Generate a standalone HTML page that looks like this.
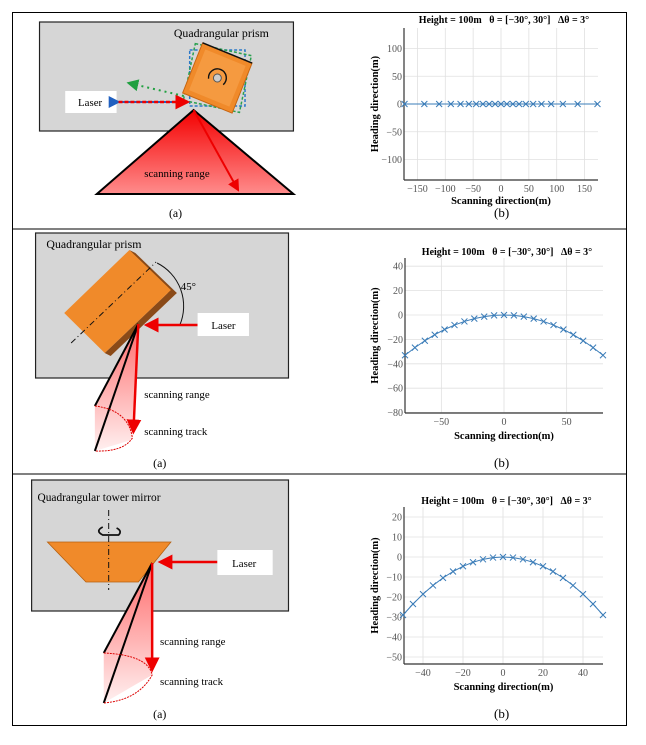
<!DOCTYPE html>
<html><head><meta charset="utf-8"><style>
html,body{margin:0;padding:0;background:#fff;}
svg{display:block;font-family:"Liberation Serif",serif;}
</style></head><body>
<svg id="s" width="646" height="745" viewBox="0 0 646 745" xmlns="http://www.w3.org/2000/svg">
<defs>
<linearGradient id="rg" x1="0" y1="0" x2="0" y2="1"><stop offset="0" stop-color="#f40000"/><stop offset="1" stop-color="#ff8c8c"/></linearGradient>
<linearGradient id="rg2" x1="0" y1="0" x2="0" y2="1"><stop offset="0" stop-color="#ff6a6a"/><stop offset="1" stop-color="#fff0f0"/></linearGradient>
<marker id="ah" markerWidth="6" markerHeight="6" refX="5" refY="3" orient="auto"><path d="M0,0 L6,3 L0,6 z" fill="#e00"/></marker>
<marker id="ahb" markerWidth="6" markerHeight="6" refX="5" refY="3" orient="auto"><path d="M0,0 L6,3 L0,6 z" fill="#2060c0"/></marker>
<marker id="ahg" markerWidth="6" markerHeight="6" refX="5" refY="3" orient="auto"><path d="M0,0 L6,3 L0,6 z" fill="#20a040"/></marker>
</defs>
<rect x="12.5" y="12.5" width="614" height="713" fill="none" stroke="#000" stroke-width="1"/>
<line x1="12" y1="229" x2="627" y2="229" stroke="#000"/>
<line x1="12" y1="474" x2="627" y2="474" stroke="#000"/>

<g transform="matrix(0.988 0 0 1 0 0)">
<rect x="40" y="22" width="257" height="109" fill="#d6d6d6" stroke="#222" stroke-width="1.2"/>
<polygon points="196,110 98,194 297,194" fill="url(#rg)" stroke="#000" stroke-width="2"/>
<line x1="196" y1="110" x2="241" y2="190" stroke="#e00" stroke-width="2" marker-end="url(#ah)"/>
<text x="146" y="177" font-size="11">scanning range</text>
<text x="176" y="37" font-size="12">Quadrangular prism</text>
<g transform="translate(220,78) rotate(22)">
<rect x="-28" y="-28" width="56" height="56" fill="none" stroke="#2a78c8" stroke-width="1.5" stroke-dasharray="3,2" transform="rotate(-22)"/>
<rect x="-29" y="-29" width="58" height="58" fill="none" stroke="#2aa050" stroke-width="1.5" stroke-dasharray="3,2" transform="rotate(-10)"/>
<rect x="-27" y="-27" width="54" height="54" fill="#f08a2a" stroke="#c76410"/>
<rect x="-22" y="-22" width="44" height="44" fill="#f59a40"/>
<circle cx="0" cy="0" r="4" fill="#ccc" stroke="#555"/>
<path d="M-8,4 A9,9 0 1 1 8,4" fill="none" stroke="#111" stroke-width="1.4"/>
<line x1="-27" y1="-27" x2="27" y2="-27" stroke="#111" stroke-width="1.5"/>
</g>
<rect x="66" y="91" width="52" height="22" fill="#fff"/>
<text x="79" y="106" font-size="11">Laser</text>
<line x1="120" y1="102" x2="190" y2="102" stroke="#2060c0" stroke-width="2" marker-start="url(#ahb)"/>
<line x1="120" y1="102" x2="190" y2="102" stroke="#e00" stroke-width="2.5" stroke-dasharray="4,2" marker-end="url(#ah)"/>
<line x1="186" y1="96" x2="130" y2="83" stroke="#20a040" stroke-width="2" stroke-dasharray="2,4" marker-end="url(#ahg)"/>
<text x="171" y="217" font-size="12">(a)</text>

<rect x="36" y="233" width="256" height="145" fill="#d6d6d6" stroke="#222" stroke-width="1.2"/>
<polygon points="131,250 137,253 179,293 173,297" fill="#8a4a18"/>
<polygon points="173,290 179,293 112,356 106,353" fill="#8a4a18"/>
<polygon points="65,313 131,250 173,290 106,353" fill="#f08a2a"/>
<line x1="72" y1="343" x2="158" y2="262" stroke="#111" stroke-dasharray="6,3,1,3"/>
<path d="M159,263 A48,48 0 0 1 182,325" fill="none" stroke="#111"/>
<text x="183" y="290" font-size="11">45°</text>
<polygon points="140,324 96,406 96,451 133,440" fill="url(#rg2)"/>
<line x1="140" y1="324" x2="96" y2="406" stroke="#000" stroke-width="2"/>
<line x1="140" y1="324" x2="96" y2="451" stroke="#000" stroke-width="2"/>
<path d="M96,406 Q130,410 134,438 Q125,452 96,451" fill="none" stroke="#d00" stroke-dasharray="2,1"/>
<line x1="140" y1="324" x2="135" y2="432" stroke="#e00" stroke-width="2.5" marker-end="url(#ah)"/>
<line x1="200" y1="325" x2="148" y2="325" stroke="#e00" stroke-width="2.5" marker-end="url(#ah)"/>
<rect x="200" y="313" width="52" height="23" fill="#fff"/>
<text x="214" y="329" font-size="11">Laser</text>
<text x="146" y="398" font-size="11">scanning range</text>
<text x="146" y="435" font-size="11">scanning track</text>
<text x="47" y="248" font-size="12">Quadrangular prism</text>
<text x="155" y="467" font-size="12">(a)</text>

<rect x="32" y="480" width="260" height="131" fill="#d6d6d6" stroke="#222" stroke-width="1.2"/>
<polygon points="48,542 173,542 140,582 87,582" fill="#f08a2a" stroke="#b56010" stroke-width="0.8"/>
<line x1="110" y1="510" x2="110" y2="590" stroke="#111" stroke-dasharray="6,3,1,3"/>
<path d="M104,527 Q96,531 104,535 L120,535 Q124,531 118,528" fill="none" stroke="#111" stroke-width="1.8"/>
<polygon points="154,563 105,653 105,703 154,675" fill="url(#rg2)"/>
<line x1="154" y1="563" x2="105" y2="653" stroke="#000" stroke-width="2"/>
<line x1="154" y1="563" x2="105" y2="703" stroke="#000" stroke-width="2"/>
<path d="M105,653 Q150,655 154,675 Q140,700 105,703" fill="none" stroke="#d00" stroke-dasharray="2,1"/>
<line x1="154" y1="563" x2="154" y2="670" stroke="#e00" stroke-width="2.5" marker-end="url(#ah)"/>
<line x1="220" y1="562" x2="162" y2="562" stroke="#e00" stroke-width="2.5" marker-end="url(#ah)"/>
<rect x="220" y="550" width="56" height="25" fill="#fff"/>
<text x="235" y="567" font-size="11">Laser</text>
<text x="162" y="645" font-size="11">scanning range</text>
<text x="162" y="685" font-size="11">scanning track</text>
<text x="38" y="501" font-size="11.5">Quadrangular tower mirror</text>
<text x="155" y="718" font-size="12">(a)</text>
</g>

<text x="494" y="217" font-size="13">(b)</text>
<text x="494" y="467" font-size="13">(b)</text>
<text x="494" y="718" font-size="13">(b)</text>
<g id="charts"></g>
</svg>
<script>
var NS="http://www.w3.org/2000/svg",G=document.getElementById("charts");
function el(t,a,txt){var e=document.createElementNS(NS,t);for(var k in a)e.setAttribute(k,a[k]);if(txt!==undefined)e.textContent=txt;G.appendChild(e);return e;}
function chart(c){
 var X=function(v){return c.x0+v*c.sx},Y=function(v){return c.y0-v*c.sy};
 c.xt.forEach(function(v){el("line",{x1:X(v),x2:X(v),y1:c.top,y2:c.bot,stroke:"#e0e0e0","stroke-width":0.8});
  el("text",{x:X(v),y:c.xly,"font-size":10,"text-anchor":"middle",fill:"#555"},v<0?"\u2212"+(-v):v);});
 c.yt.forEach(function(v){el("line",{x1:c.left,x2:c.right,y1:Y(v),y2:Y(v),stroke:"#e0e0e0","stroke-width":0.8});
  el("text",{x:c.left-2,y:Y(v)+3.5,"font-size":10,"text-anchor":"end",fill:"#555"},v<0?"\u2212"+(-v):v);});
 el("line",{x1:c.left,x2:c.left,y1:c.top,y2:c.bot,stroke:"#333","stroke-width":1.2});
 el("line",{x1:c.left,x2:c.right,y1:c.bot,y2:c.bot,stroke:"#333","stroke-width":1.2});
 el("text",{x:(c.left+c.right)/2+3,y:c.ty,"font-size":10,"font-weight":"bold","text-anchor":"middle"},"Height = 100m\u00a0\u00a0\u00a0\u03b8 = [\u221230\u00b0, 30\u00b0]\u00a0\u00a0\u00a0\u0394\u03b8 = 3\u00b0");
 el("text",{x:(c.left+c.right)/2,y:c.xlab,"font-size":10.5,"font-weight":"bold","text-anchor":"middle"},"Scanning direction(m)");
 el("text",{x:c.yl,y:(c.top+c.bot)/2,"font-size":10.5,"font-weight":"bold","text-anchor":"middle",transform:"rotate(-90 "+c.yl+" "+(c.top+c.bot)/2+")"},"Heading direction(m)");
 var pts=[];for(var t=-30;t<=30;t+=3){var p=c.f(t);pts.push([X(p[0]),Y(p[1])]);}
 el("polyline",{points:pts.map(function(p){return p.join(",")}).join(" "),fill:"none",stroke:"#3a7cb8","stroke-width":1});
 pts.forEach(function(p){el("path",{d:"M"+(p[0]-3)+","+(p[1]-3)+"l6,6M"+(p[0]-3)+","+(p[1]+3)+"l6,-6",stroke:"#3a7cb8","stroke-width":1});});
}
var d=Math.PI/180;
chart({x0:501,sx:0.557,y0:104,sy:0.555,left:404,right:598,top:28,bot:180,ty:23,xly:192,xlab:204,yl:378,
 xt:[-150,-100,-50,0,50,100,150],yt:[-100,-50,0,50,100],f:function(t){return[100*Math.tan(2*t*d),0];}});
chart({x0:504,sx:1.253,y0:315,sy:1.22,left:405,right:603,top:258,bot:413,ty:255,xly:425,xlab:439,yl:378,
 xt:[-50,0,50],yt:[-80,-60,-40,-20,0,20,40],f:function(t){var x=79*t/30;return[x,-33*(x/79)*(x/79)];}});
chart({x0:503,sx:2,y0:557,sy:2,left:404,right:603,top:507,bot:664,ty:504,xly:676,xlab:690,yl:378,
 xt:[-40,-20,0,20,40],yt:[-50,-40,-30,-20,-10,0,10,20],f:function(t){var x=50*t/30;return[x,-29*(x/50)*(x/50)];}});
</script>
</body></html>
